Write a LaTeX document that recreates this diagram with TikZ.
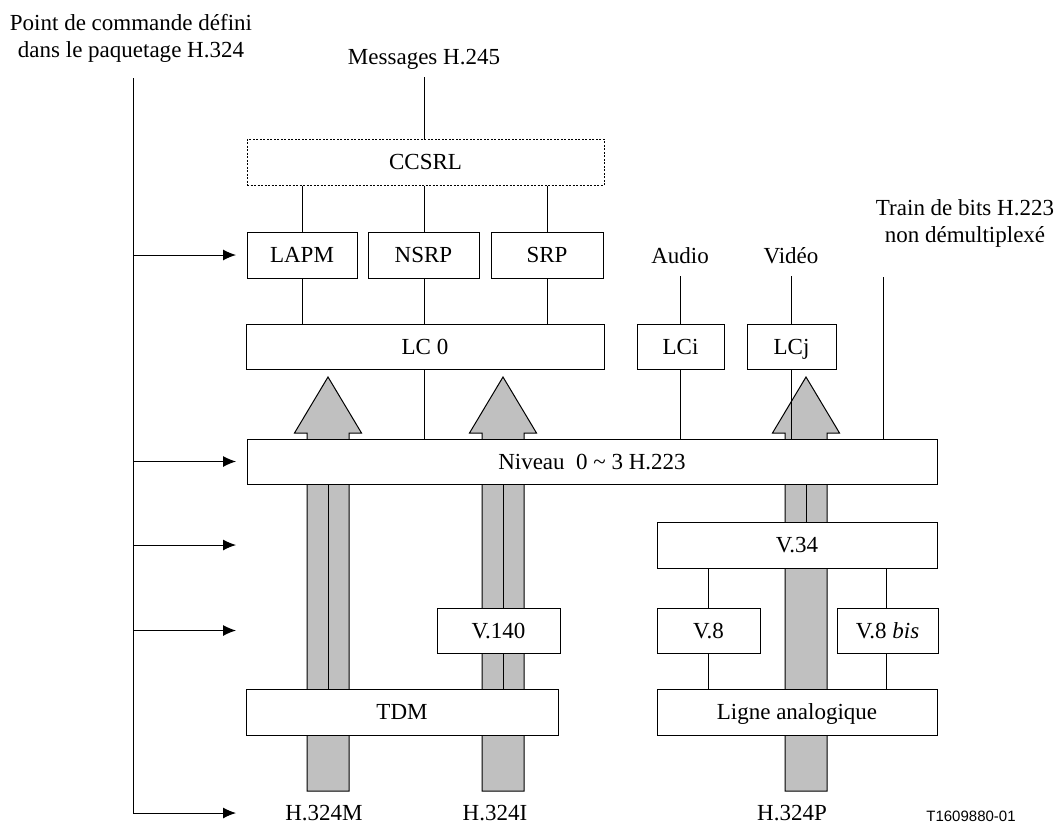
\documentclass[tikz,border=0pt]{standalone}
\usepackage{fontspec}
\setmainfont{Liberation Serif}
\newfontfamily\arialfont{Liberation Sans}
\usetikzlibrary{arrows.meta}
\definecolor{shaftgray}{HTML}{C0C0C0}
\begin{document}
\begin{tikzpicture}[x=1pt,y=-1pt,
  every node/.style={font=\fontsize{23}{27}\selectfont, inner sep=0pt},
  blk/.style={draw, fill=white, line width=1pt, minimum height=46pt, inner sep=0pt, text height=15pt, text depth=0pt},
  wire/.style={line width=1pt},
  ctl/.style={line width=1pt, -{Latex[length=13pt,width=11pt]}},
  bigarrow/.style={draw, line width=1pt, fill=shaftgray}]
\useasboundingbox (0,0) rectangle (1056,827);

% big gray arrows (shafts go behind the boxes)
\foreach \cx in {328,503,806}{
  \draw[bigarrow] (\cx-21,791) -- (\cx-21,433) -- (\cx-33.5,433) -- (\cx,377)
     -- (\cx+33.5,433) -- (\cx+21,433) -- (\cx+21,791) -- cycle;
}
% dividers inside shafts
\draw[wire] (328,484) -- (328,689);
\draw[wire] (503,484) -- (503,689);
\draw[wire] (806,484) -- (806,522);

% boxes
\node[blk, dashed, dash pattern=on 2pt off 1.5pt, minimum width=357pt] (ccsrl) at (425.5,162) {CCSRL};
\node[blk, minimum width=110pt] (lapm) at (302,255) {LAPM};
\node[blk, minimum width=111pt] (nsrp) at (423.5,255) {NSRP};
\node[blk, minimum width=112pt] (srp) at (547,255) {SRP};
\node[blk, minimum width=358pt, minimum height=45pt] (lc0) at (425,346.5) {LC 0};
\node[blk, minimum width=87pt, minimum height=45pt] (lci) at (680.5,346.5) {LCi};
\node[blk, minimum width=89pt, minimum height=45pt] (lcj) at (791.5,346.5) {LCj};
\node[blk, minimum width=690pt, minimum height=45pt] (niv) at (592,461.5) {Niveau\ \ 0 {\textasciitilde} 3 H.223};
\node[blk, minimum width=280pt] (v34) at (797,545) {V.34};
\node[blk, minimum width=123pt, minimum height=45pt] (v140) at (498.5,630.5) {V.140};
\node[blk, minimum width=103pt, minimum height=45pt] (v8) at (708.5,630.5) {V.8};
\node[blk, minimum width=101pt, minimum height=45pt] (v8b) at (887.5,630.5) {V.8 \textit{bis}};
\node[blk, minimum width=312pt] (tdm) at (402,712) {TDM};
\node[blk, minimum width=280pt] (lig) at (797,712) {Ligne analogique};

% labels
\node[anchor=north, align=center] (pc) at (131,14) {Point de commande défini\\dans le paquetage H.324};
\node[anchor=base] (msg) at (424,64) {Messages H.245};
\node[anchor=base] (aud) at (680,263) {Audio};
\node[anchor=base] (vid) at (791,263) {Vidéo};
\node[anchor=north, align=center] (trn) at (965,199) {Train de bits H.223\\non démultiplexé};
\node[anchor=base] (m) at (324,820) {H.324M};
\node[anchor=base] (i) at (495,820) {H.324I};
\node[anchor=base] (p) at (792,820) {H.324P};
\node[anchor=base, font=\arialfont\fontsize{15}{18}\selectfont] (ref) at (971,821) {T1609880-01};

% connectors
\coordinate (msgtop) at (424,77);
\draw[wire] (msgtop) -- (msgtop |- ccsrl.north);
\foreach \n/\x in {lapm/302,nsrp/424,srp/547}{
  \draw[wire] (\x,0 |- ccsrl.south) -- (\x,0 |- \n.north);
  \draw[wire] (\x,0 |- \n.south) -- (\x,0 |- lc0.north);
}
\draw[wire] (424,0 |- lc0.south) -- (424,0 |- niv.north);
\coordinate (audtop) at (680,276);
\draw[wire] (audtop) -- (audtop |- lci.north);
\draw[wire] (680,0 |- lci.south) -- (680,0 |- niv.north);
\coordinate (vidtop) at (791,276);
\draw[wire] (vidtop) -- (vidtop |- lcj.north);
\draw[wire] (791,0 |- lcj.south) -- (791,0 |- niv.north);
\coordinate (trntop) at (883,277);
\draw[wire] (trntop) -- (trntop |- niv.north);
\draw[wire] (708,0 |- v34.south) -- (708,0 |- v8.north);
\draw[wire] (708,0 |- v8.south) -- (708,0 |- lig.north);
\draw[wire] (886,0 |- v34.south) -- (886,0 |- v8b.north);
\draw[wire] (886,0 |- v8b.south) -- (886,0 |- lig.north);

% control points on the left
\coordinate (ltop) at (133,78);
\coordinate (lbot) at (133,813);
\draw[wire] (ltop) -- (lbot);
\foreach \k/\y in {a/255,b/461.5,c/545,d/630.5,e/813}{
  \coordinate (l\k) at (133,\y);
  \coordinate (t\k) at (236,\y);
  \draw[ctl] (l\k) -- (t\k);
}
\end{tikzpicture}
\end{document}
